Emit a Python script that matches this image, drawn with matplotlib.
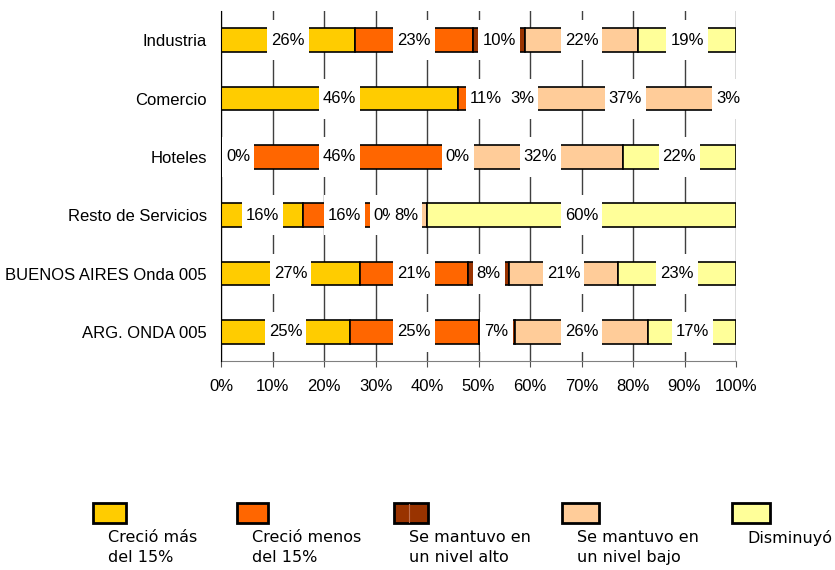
import matplotlib
matplotlib.use("Agg")
import matplotlib.pyplot as plt
from matplotlib.patches import Rectangle
from matplotlib.lines import Line2D
import numpy as np

categories = ["Industria", "Comercio", "Hoteles", "Resto de Servicios",
              "BUENOS AIRES Onda 005", "ARG. ONDA 005"]
series_names = ["Creció más\ndel 15%", "Creció menos\ndel 15%",
                "Se mantuvo en\nun nivel alto", "Se mantuvo en\nun nivel bajo",
                "Disminuyó"]
crecio_mas = [26, 46, 0, 16, 27, 25]
crecio_menos = [23, 11, 46, 16, 21, 25]
mantuvo_alto = [10, 3, 0, 0, 8, 7]
mantuvo_bajo = [22, 37, 32, 8, 21, 26]
disminuyo = [19, 3, 22, 60, 23, 17]
xticks = [0, 10, 20, 30, 40, 50, 60, 70, 80, 90, 100]

colors = ["#FFCC00", "#FF6600", "#993300", "#FFCC99", "#FFFF99"]
series = [crecio_mas, crecio_menos, mantuvo_alto, mantuvo_bajo, disminuyo]

W, H = 835, 570
fig = plt.figure(figsize=(W / 100, H / 100), dpi=100)
ax = fig.add_axes([221 / W, 209 / H, 515 / W, 350 / H])

FONT = "Liberation Sans"
y = np.arange(len(categories))
left = np.zeros(len(categories))
lefts = []
for vals, col in zip(series, colors):
    lefts.append(left.copy())
    ax.barh(y, vals, left=left, height=0.41, color=col, edgecolor="black",
            linewidth=1.2, zorder=2)
    left = left + np.array(vals)

ax.set_xlim(0, 100)
ax.set_ylim(len(categories) - 0.5, -0.5)
for t in xticks:
    ax.axvline(t, color="#404040", lw=1, zorder=1)

ax.set_xticks(xticks)
ax.set_xticklabels([f"{t}%" for t in xticks], fontsize=12, family=FONT)
ax.set_yticks(y)
ax.set_yticklabels(categories, fontsize=12, family=FONT)
ax.tick_params(axis="x", direction="out", length=4, color="#505050", pad=9)
ax.tick_params(axis="y", length=0, pad=10)
for s in ["top", "right"]:
    ax.spines[s].set_visible(False)
ax.spines["left"].set_color("black")
ax.spines["left"].set_zorder(5)
ax.spines["bottom"].set_color("#808080")
ax.set_facecolor("white")

# data labels
texts = []
order = 0
for i in range(len(categories)):
    for k, vals in enumerate(series):
        cx = lefts[k][i] + vals[i] / 2
        t = ax.text(cx, y[i], f"{vals[i]}%", ha="center", va="center",
                    fontsize=12, family=FONT, zorder=20 + 2 * order, clip_on=False)
        texts.append((t, y[i], 20 + 2 * order))
        order += 1

fig.canvas.draw()
renderer = fig.canvas.get_renderer()
inv = ax.transData.inverted()
ax_left_px = ax.transData.transform((0, 0))[0]
padx = 4
half_h = 20
for t, yc, z in texts:
    bb = t.get_window_extent(renderer)
    if bb.x0 - padx < ax_left_px:
        shift = ax_left_px - (bb.x0 - padx) + 1
        px, py = ax.transData.transform(t.get_position())
        nx, _ = inv.transform((px + shift, py))
        t.set_x(nx)
        bb = t.get_window_extent(renderer)
    ycp = ax.transData.transform((0, yc))[1]
    x0d, y0d = inv.transform((bb.x0 - padx, ycp - half_h))
    x1d, y1d = inv.transform((bb.x1 + padx, ycp + half_h))
    r = Rectangle((x0d, min(y0d, y1d)), x1d - x0d, abs(y1d - y0d),
                  facecolor="white", edgecolor="none", zorder=z - 1, clip_on=False)
    ax.add_patch(r)

# legend
box_x = [93, 237, 394, 562, 732]
box_w = [33, 31, 34, 37, 38]
for bx, bw, col, name in zip(box_x, box_w, colors, series_names):
    fig.add_artist(Rectangle((bx / W, (H - 523) / H), bw / W, 20 / H,
                             facecolor=col, edgecolor="black", linewidth=2,
                             transform=fig.transFigure))
    fig.text((bx + 15) / W, (H - 530) / H, name, ha="left", va="top",
             fontsize=11.5, family="DejaVu Sans", linespacing=1.4)
# faint divider inside the third legend key, as in the reference
fig.add_artist(Line2D([409 / W, 409 / W], [(H - 522) / H, (H - 504) / H],
                      color="#C07050", lw=0.8, transform=fig.transFigure))

fig.savefig("out.png", dpi=100, facecolor="white")
